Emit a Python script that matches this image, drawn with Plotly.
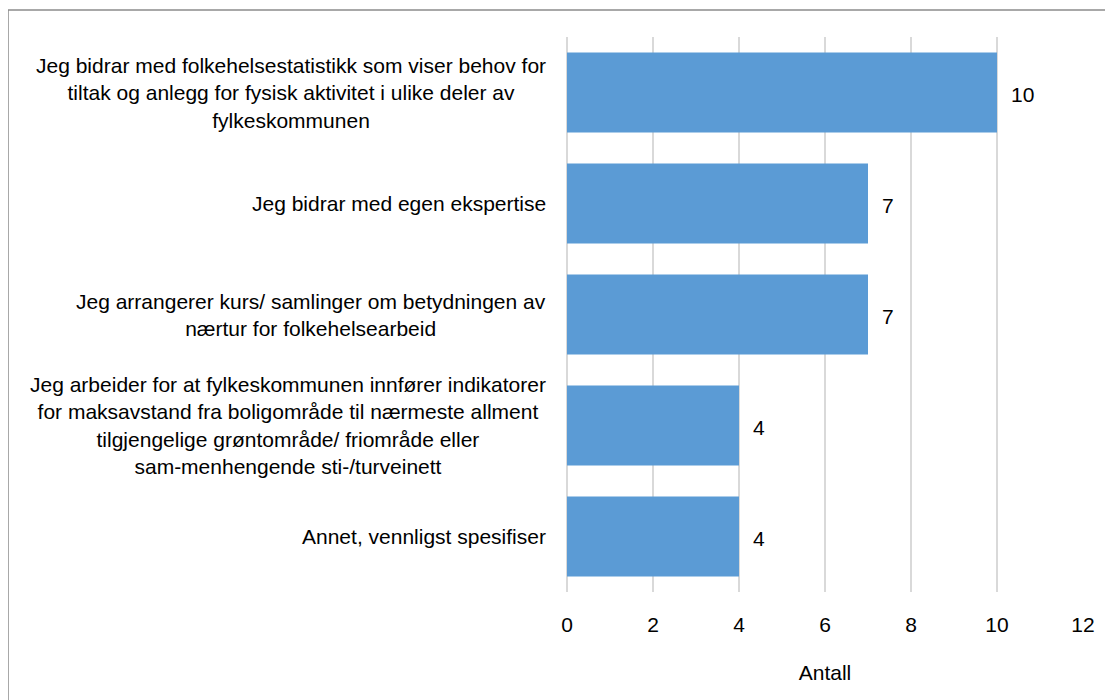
import plotly.graph_objects as go

categories = [
    "Jeg bidrar med folkehelsestatistikk som viser behov for<br>tiltak og anlegg for fysisk aktivitet i ulike deler av<br>fylkeskommunen",
    "Jeg bidrar med egen ekspertise",
    "Jeg arrangerer kurs/ samlinger om betydningen av<br>nærtur for folkehelsearbeid",
    "Jeg arbeider for at fylkeskommunen innfører indikatorer<br>for maksavstand fra boligområde til nærmeste allment<br>tilgjengelige grøntområde/ friområde eller<br>sam-menhengende sti-/turveinett",
    "Annet, vennligst spesifiser",
]
values = [10, 7, 7, 4, 4]
x_ticks = [0, 2, 4, 6, 8, 10, 12]
x_title = "Antall"

FONT = "Liberation Sans Narrow, Liberation Sans, Arial, sans-serif"
BAR_COLOR = "#5B9BD5"

fig = go.Figure(
    go.Bar(
        x=values,
        y=list(range(len(categories))),
        orientation="h",
        marker=dict(color=BAR_COLOR, line=dict(width=0)),
        hoverinfo="skip",
    )
)

annotations = []
for i, (cat, v) in enumerate(zip(categories, values)):
    annotations.append(dict(
        text=cat, xref="paper", x=0, yref="y", y=i,
        xanchor="right", yanchor="middle", align="center",
        xshift=-19, showarrow=False,
        font=dict(family=FONT, size=21, color="#000000"),
    ))
    annotations.append(dict(
        text=str(v), xref="x", x=v, yref="y", y=i,
        xanchor="left", yanchor="middle", xshift=12, yshift=-2,
        showarrow=False,
        font=dict(family=FONT, size=21, color="#000000"),
    ))

# plot area in page pixels: x 567..1083, y 37..592 (page has 8px offset)
fig.update_layout(
    width=1113, height=700,
    margin=dict(l=559, r=38, t=29, b=116),
    paper_bgcolor="white", plot_bgcolor="white",
    bargap=0.28,
    showlegend=False,
    font=dict(family=FONT, size=21, color="#000000"),
    xaxis=dict(
        range=[0, 12], tickvals=x_ticks, ticktext=[str(t) for t in x_ticks],
        showgrid=True, gridcolor="#D9D9D9", gridwidth=1.6,
        zeroline=True, zerolinecolor="#D9D9D9", zerolinewidth=1.6,
        showline=False, ticks="", ticklabelstandoff=18,
        tickfont=dict(family=FONT, size=21, color="#000000"),
        title=dict(text=x_title, standoff=30,
                   font=dict(family=FONT, size=21, color="#000000")),
        automargin=False,
    ),
    yaxis=dict(
        range=[len(categories) - 0.5, -0.5],
        showticklabels=False, showgrid=False, zeroline=False,
        showline=False, ticks="", automargin=False,
    ),
    annotations=annotations,
    shapes=[dict(
        type="rect", xref="paper", yref="paper",
        x0=(8 - 567) / 516, x1=1.2, y0=-0.3, y1=(592 - 10) / 555,
        line=dict(color="#8C8C8C", width=1.5), fillcolor="rgba(0,0,0,0)",
        layer="below",
    )],
)

fig.write_html("out.html")
